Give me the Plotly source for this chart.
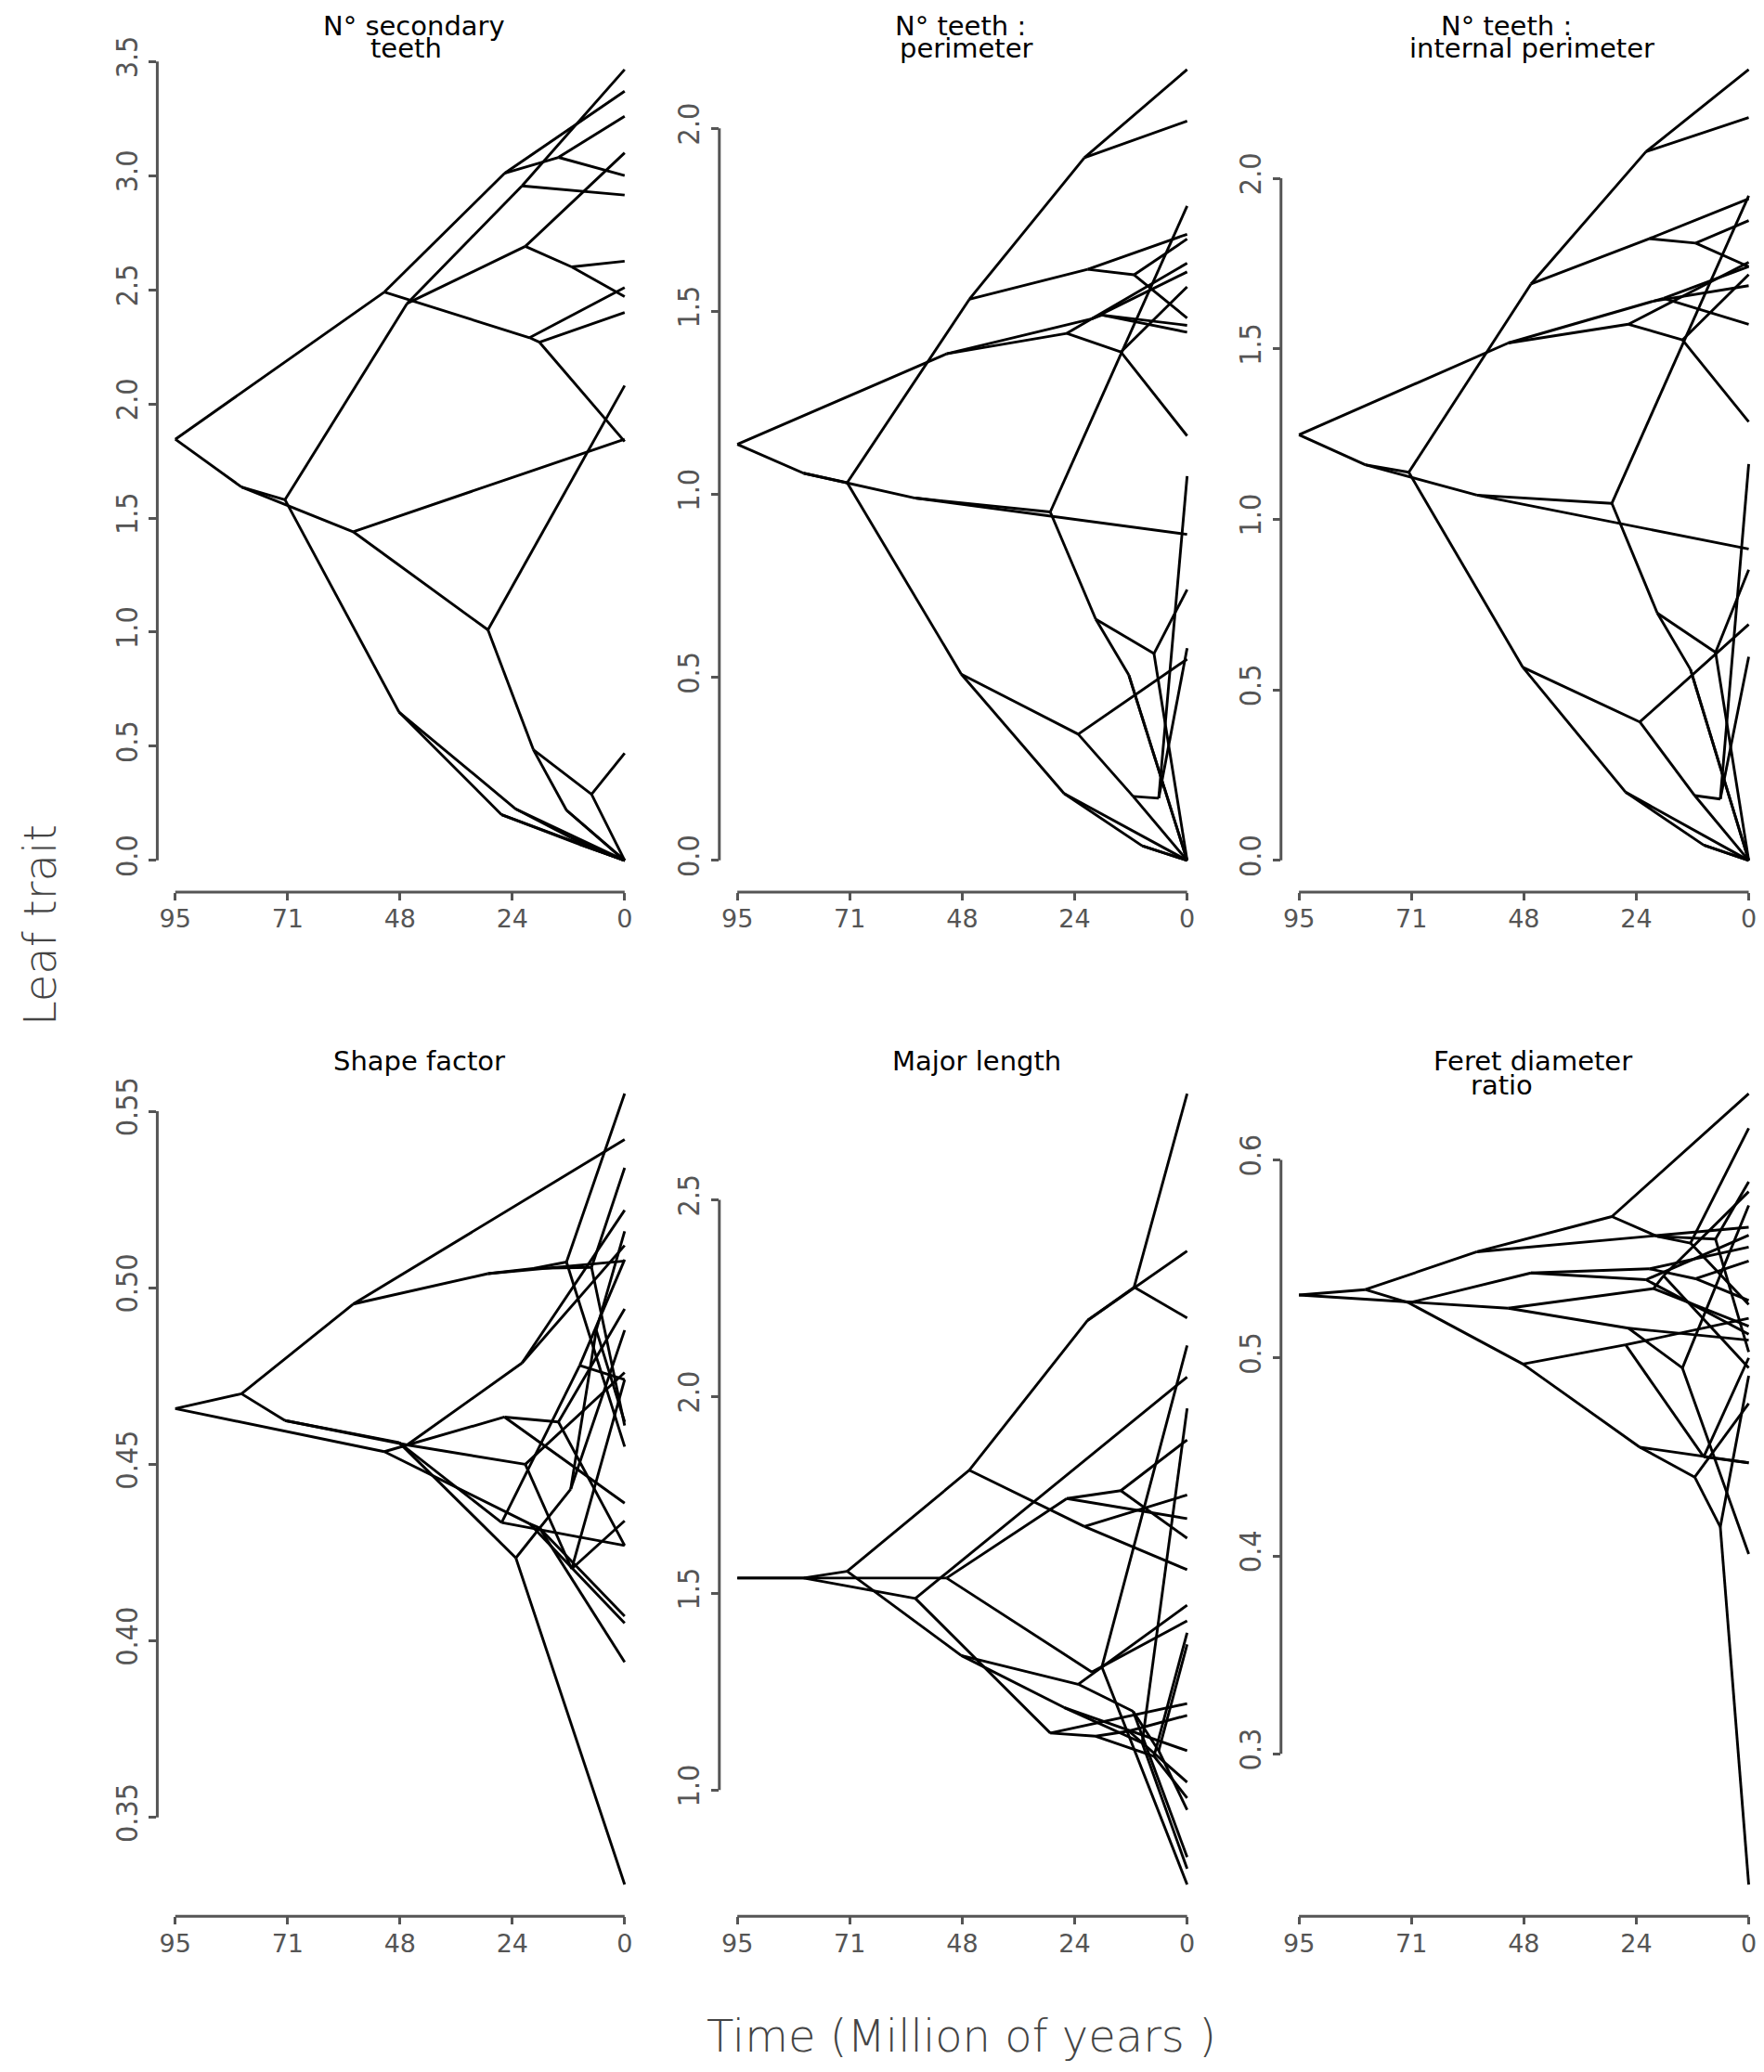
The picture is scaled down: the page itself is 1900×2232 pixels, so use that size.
import plotly.graph_objects as go

# phylogeny shared by all six traitgrams
# internal nodes 0-22 (0 = root), then 24 tips (time 0)
node_time = [95.0, 81.0, 50.8, 71.8, 57.4, 46.0, 47.7, 25.4, 20.1, 21.7, 21.0,
             28.9, 19.3, 7.0, 12.3, 14.0, 11.2, 18.0, 23.0, 26.0, 11.4, 6.0, 9.5] + [0.0] * 24
node_parent = [-1, 0, 0, 1, 1, 3, 3, 2, 2, 5, 5, 4, 11, 12, 12, 7, 10, 8, 6, 6, 18, 20, 19,
               4, 11, 13, 13, 14, 14, 7, 15, 15, 8, 17, 17, 9, 9, 10, 16, 16, 18, 20, 21, 21, 19, 22, 22]

# trait values at every node (same order as node_time)
sec_teeth = [1.845, 1.636, 2.49, 1.58, 1.44, 2.44, 0.65, 3.01, 2.29, 2.955, 2.69, 1.01, 0.485,
             0.29, 0.22, 3.08, 2.60, 2.27, 0.225, 0.20, 0.10, 0.05, 0.07,
             1.845, 2.08, 0.47, 0.0, 0.0, 0.0, 3.37, 3.26, 3.0, 2.51, 2.40, 1.835, 3.465, 2.915,
             3.10, 2.625, 2.47, 0.0, 0.0, 0.0, 0.0, 0.0, 0.0, 0.0]
teeth_perim = [1.137, 1.058, 1.384, 1.032, 0.99, 1.533, 0.509, 1.44, 1.48, 1.92, 1.615, 0.952,
               0.659, 0.565, 0.506, 1.389, 1.60, 1.49, 0.345, 0.183, 0.175, 0.17, 0.04,
               0.891, 1.788, 0.74, 0.0, 0.0, 0.0, 1.632, 1.16, 1.567, 1.608, 1.462, 1.443, 2.161,
               2.02, 1.711, 1.698, 1.482, 0.55, 0.0, 1.05, 0.58, 0.0, 0.0, 0.0]
teeth_int = [1.248, 1.16, 1.517, 1.138, 1.071, 1.69, 0.566, 1.572, 1.64, 2.078, 1.823, 1.047,
             0.725, 0.61, 0.56, 1.526, 1.81, 1.648, 0.406, 0.20, 0.19, 0.18, 0.045,
             0.913, 1.949, 0.852, 0.0, 0.0, 0.0, 1.754, 1.286, 1.718, 1.685, 1.572, 1.741, 2.319,
             2.178, 1.94, 1.876, 1.741, 0.692, 0.0, 1.162, 0.597, 0.0, 0.0, 0.0]
shape_factor = [0.4658, 0.470, 0.4536, 0.4624, 0.4954, 0.4555, 0.4562, 0.4634, 0.4332, 0.4787,
                0.450, 0.504, 0.5055, 0.5058, 0.5073, 0.462, 0.4204, 0.432, 0.4235, 0.4335,
                0.443, 0.488, 0.478,
                0.542, 0.5076, 0.534, 0.461, 0.555, 0.455, 0.439, 0.427, 0.494, 0.405, 0.407,
                0.394, 0.512, 0.522, 0.476, 0.434, 0.474, 0.331, 0.488, 0.516, 0.462, 0.427,
                0.508, 0.474]
major_length = [1.539, 1.539, 1.539, 1.556, 1.487, 1.813, 1.342, 1.741, 1.30, 1.67, 2.194, 1.145,
                1.137, 1.086, 1.15, 1.761, 2.278, 1.313, 1.269, 1.21, 1.20, 1.10, 1.12,
                2.05, 1.22, 1.40, 0.98, 1.19, 1.02, 1.69, 1.89, 1.64, 1.43, 2.13, 0.76, 1.56,
                1.75, 2.37, 2.77, 2.2, 1.47, 0.83, 1.37, 0.95, 1.10, 0.80, 1.97]
feret_ratio = [0.5318, 0.5345, 0.5251, 0.5278, 0.5536, 0.5429, 0.4969, 0.515, 0.535, 0.5395,
               0.545, 0.5714, 0.5614, 0.56, 0.558, 0.4949, 0.54, 0.5415, 0.4549, 0.5066,
               0.4398, 0.4146, 0.45,
               0.566, 0.6335, 0.589, 0.503, 0.616, 0.527, 0.509, 0.577, 0.401, 0.516, 0.584,
               0.495, 0.562, 0.512, 0.556, 0.549, 0.529, 0.447, 0.477, 0.234, 0.491, 0.52,
               0.50, 0.447]

panel_values = [sec_teeth, teeth_perim, teeth_int, shape_factor, major_length, feret_ratio]
panel_titles = [["N° secondary", "teeth"], ["N° teeth :", "perimeter"],
                ["N° teeth :", "internal perimeter"], ["Shape factor"], ["Major length"],
                ["Feret diameter", "ratio"]]
y_ticks = [[0.0, 0.5, 1.0, 1.5, 2.0, 2.5, 3.0, 3.5], [0.0, 0.5, 1.0, 1.5, 2.0],
           [0.0, 0.5, 1.0, 1.5, 2.0], [0.35, 0.40, 0.45, 0.50, 0.55],
           [1.0, 1.5, 2.0, 2.5], [0.3, 0.4, 0.5, 0.6]]
y_fmt = [".1f", ".1f", ".1f", ".2f", ".1f", ".1f"]
x_tickvals = [95, 71.25, 47.5, 23.75, 0]
x_ticktext = ["95", "71", "48", "24", "0"]

# page is 1900x2232; the browser body adds an 8px margin round the figure
OFF = 8
W, H = 1900 - 2 * OFF, 2232 - 2 * OFF
col_px = [(169.6, 692.9), (775.6, 1299.4), (1381.2, 1892)]     # page pixels
col_xrange = [[98.8, -3.8], [98.8, -3.8], [98.8, -1.27]]
row_px = [(38.8, 959.8), (1143, 2064)]
title_pos = [[(446, 26), (438, 50)], [(1036, 26), (1042, 50)], [(1624, 26), (1652, 50)],
             [(452, 1142)], [(1053, 1142)], [(1653, 1142), (1619, 1168)]]

axis_col = "#555555"
xtick_font = dict(family="DejaVu Sans", size=27, color=axis_col)
ytick_font = dict(family="Liberation Sans Narrow, DejaVu Sans Condensed, sans-serif",
                  size=32, color=axis_col)


def fx(px):
    return (px - OFF) / W


def fy(py):
    return 1 - (py - OFF) / H


fig = go.Figure()
shapes, annotations = [], []

for k, vals in enumerate(panel_values):
    r, c = divmod(k, 3)
    sx = "" if k == 0 else str(k + 1)
    xs, ys = [], []
    for i, p in enumerate(node_parent):
        if p < 0:
            continue
        xs += [node_time[p], node_time[i], None]
        ys += [vals[p], vals[i], None]
    fig.add_trace(go.Scatter(x=xs, y=ys, mode="lines", xaxis="x" + sx, yaxis="y" + sx,
                             line=dict(color="black", width=2.9), hoverinfo="skip",
                             showlegend=False, cliponaxis=False))

    lo, hi = min(vals), max(vals)
    pad = 0.04 * (hi - lo)
    x0, x1 = col_px[c]
    y0, y1 = row_px[r]
    fig.layout["xaxis" + sx] = dict(
        domain=[fx(x0), min(1.0, fx(x1))], range=col_xrange[c], anchor="y" + sx,
        showline=False, showgrid=False, zeroline=False,
        tickvals=x_tickvals, ticktext=x_ticktext, ticks="outside", ticklen=8,
        tickwidth=3, tickcolor=axis_col, tickfont=xtick_font, ticklabelstandoff=-3,
        ticklabeloverflow="allow")
    fig.layout["yaxis" + sx] = dict(
        domain=[fy(y1), fy(y0)], range=[lo - pad, hi + pad], anchor="x" + sx,
        showline=False, showgrid=False, zeroline=False,
        tickvals=y_ticks[k], tickformat=y_fmt[k], ticks="outside", ticklen=8,
        tickwidth=3, tickcolor=axis_col, tickfont=ytick_font, tickangle=-90)

    # R-style axis lines that only run between the outer ticks
    shapes.append(dict(type="line", xref="x" + sx, yref="y" + sx + " domain",
                       x0=x_tickvals[0], x1=x_tickvals[-1], y0=0, y1=0,
                       line=dict(color=axis_col, width=3)))
    shapes.append(dict(type="line", xref="x" + sx + " domain", yref="y" + sx,
                       x0=0, x1=0, y0=y_ticks[k][0], y1=y_ticks[k][-1],
                       line=dict(color=axis_col, width=3)))

    for line_txt, (px, py) in zip(panel_titles[k], title_pos[k]):
        annotations.append(dict(text=line_txt, x=fx(px), y=fy(py), xref="paper",
                                yref="paper", xanchor="center", yanchor="middle",
                                showarrow=False,
                                font=dict(family="DejaVu Sans", size=29, color="black")))

annotations.append(dict(text="Leaf trait", x=fx(43), y=fy(995), xref="paper",
                        yref="paper", textangle=-90, showarrow=False,
                        xanchor="center", yanchor="middle",
                        font=dict(family="DejaVu Sans", size=48, color="#444444", weight=300)))
annotations.append(dict(text="Time (Million of years )", x=fx(1037), y=fy(2193),
                        xref="paper", yref="paper", showarrow=False,
                        xanchor="center", yanchor="middle",
                        font=dict(family="DejaVu Sans", size=48, color="#444444", weight=300)))

fig.update_layout(width=W, height=H, margin=dict(l=0, r=0, t=0, b=0),
                  paper_bgcolor="white", plot_bgcolor="white", showlegend=False,
                  shapes=shapes, annotations=annotations)

fig.write_html("out.html")
